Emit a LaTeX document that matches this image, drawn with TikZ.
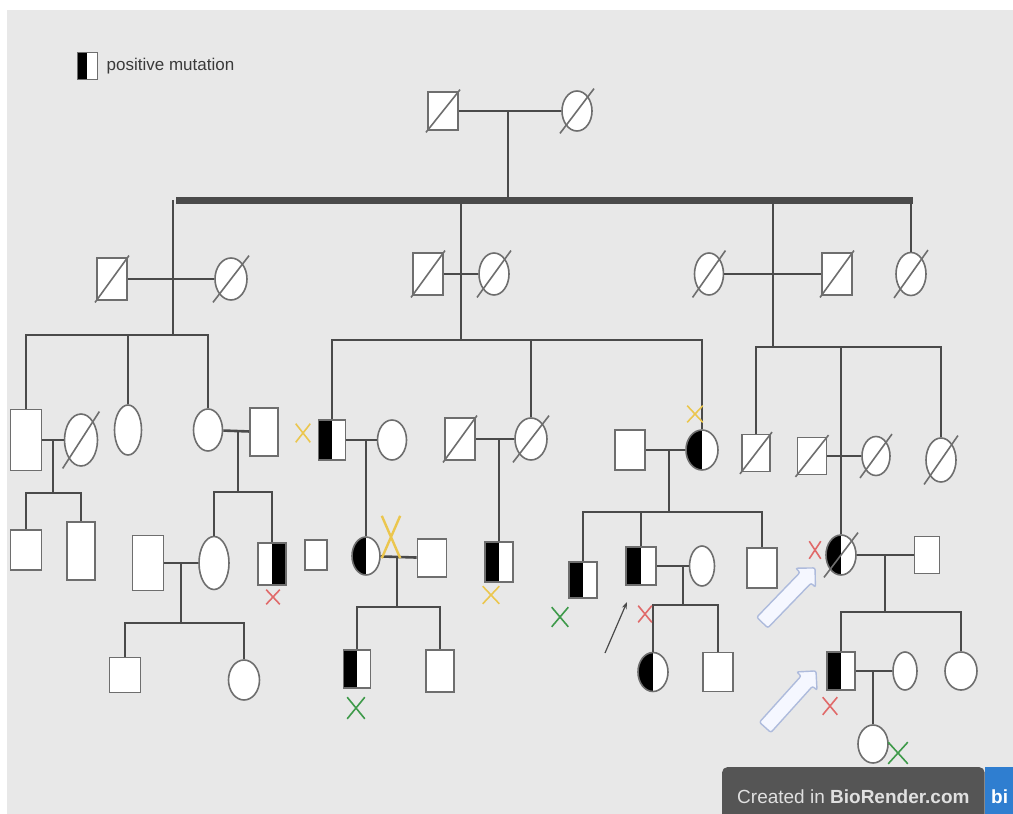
\documentclass[tikz,border=0pt]{standalone}
\usepackage{fontspec}
\setmainfont{Liberation Sans}
\usetikzlibrary{arrows.meta, positioning, shapes.geometric, shapes.misc, shapes.arrows}

\definecolor{bgc}{HTML}{E8E8E8}
\definecolor{linec}{HTML}{4A4A4A}
\definecolor{shapec}{HTML}{6E6E6E}
\definecolor{textc}{HTML}{3A3A3A}
\definecolor{yelx}{HTML}{EBC64E}
\definecolor{redx}{HTML}{E06A6A}
\definecolor{grnx}{HTML}{3E9A4A}
\definecolor{hintc}{HTML}{AEBBDC}
\definecolor{hintfill}{HTML}{F5F7FF}
\definecolor{badgec}{HTML}{555555}
\definecolor{logoc}{HTML}{2F7ED0}

\begin{document}
\begin{tikzpicture}[
    x=1pt, y=-1pt,
    person/.style={draw=shapec, line width=1.6pt, fill=white, inner sep=0pt},
    male/.style={person, rectangle, minimum width=29pt, minimum height=39pt},
    female/.style={person, ellipse, minimum width=29pt, minimum height=40pt},
    carrier/.style={path picture={\fill[black] (path picture bounding box.south west) rectangle (path picture bounding box.north);}},
    carrierR/.style={path picture={\fill[black] (path picture bounding box.south) rectangle (path picture bounding box.north east);}},
    slash/.style={draw=shapec, line width=1.6pt, shorten <=-2pt, shorten >=-2pt},
    dead/.style={append after command={(\tikzlastnode.west |- \tikzlastnode.south) edge[slash] (\tikzlastnode.east |- \tikzlastnode.north)}},
    kin/.style={draw=linec, line width=2.6pt},
    bar/.style={draw=linec, line width=7pt},
    xmark/.style={cross out, line width=1.6pt, inner sep=0pt, minimum width=12pt, minimum height=14pt},
    hint/.style={single arrow, draw=hintc, fill=hintfill, line width=1.4pt, rounded corners=2pt,
        minimum height=76pt, single arrow head extend=6pt, inner xsep=0pt, inner ysep=7pt},
]

\useasboundingbox (0,0) rectangle (1013,814);
\fill[white] (0,0) rectangle (1013,814);
\fill[bgc] (7,10) rectangle (1013,814);

% legend
\node[male, carrier, line width=1pt, minimum width=20pt, minimum height=27pt] (legbox) at (87,66) {};
\node[right=8pt of legbox, inner sep=1pt, text=textc, font=\fontsize{17}{17}\selectfont] (legtext) {positive mutation};

% generation I
\node[male, dead, minimum height=38pt, minimum width=30pt] (i1) at (443,111) {};
\node[female, dead, minimum width=30pt] (i2) at (577,111) {};

% generation II
\node[male, dead, minimum width=30pt, minimum height=42pt] (ii1) at (112,279) {};
\node[female, dead, minimum width=32pt, minimum height=42pt] (ii2) at (231,279) {};
\node[male, dead, minimum width=30pt, minimum height=42pt] (ii3) at (428,274) {};
\node[female, dead, minimum width=30pt, minimum height=42pt] (ii4) at (494,274) {};
\node[female, dead, minimum height=42pt] (ii5) at (709,274) {};
\node[male, dead, minimum width=30pt, minimum height=42pt] (ii6) at (837,274) {};
\node[female, dead, minimum width=30pt, minimum height=43pt] (ii7) at (911,274) {};

% generation III
\node[male, minimum width=31pt, minimum height=61pt] (iii1) at (26,440) {};
\node[female, dead, minimum width=33pt, minimum height=52pt] (iii2) at (81,440) {};
\node[female, minimum width=27pt, minimum height=50pt] (iii3) at (128,430) {};
\node[female, minimum height=42pt] (iii4) at (208,430) {};
\node[male, minimum width=28pt, minimum height=48pt] (iii5) at (264,432) {};
\node[male, carrier, minimum width=27pt, minimum height=40pt] (iii6) at (332,440) {};
\node[female, minimum height=40pt] (iii7) at (392,440) {};
\node[male, dead, minimum width=30pt, minimum height=42pt] (iii8) at (460,439) {};
\node[female, dead, minimum width=32pt, minimum height=42pt] (iii9) at (531,439) {};
\node[male, minimum width=30pt, minimum height=40pt] (iii10) at (630,450) {};
\node[female, carrier, minimum width=32pt, minimum height=40pt] (iii11) at (702,450) {};
\node[male, dead, minimum width=28pt, minimum height=37pt] (iii12) at (756,453) {};
\node[male, dead, minimum width=29pt, minimum height=37pt] (iii13) at (812,456) {};
\node[female, dead, minimum width=28pt, minimum height=39pt] (iii14) at (876,456) {};
\node[female, dead, minimum width=30pt, minimum height=44pt] (iii15) at (941,460) {};

% generation IV
\node[male, minimum width=31pt, minimum height=40pt] (iv1) at (26,550) {};
\node[male, minimum width=28pt, minimum height=58pt] (iv2) at (81,551) {};
\node[male, minimum width=31pt, minimum height=55pt] (iv5) at (148,563) {};
\node[female, minimum width=30pt, minimum height=53pt] (iv3) at (214,563) {};
\node[male, carrierR, minimum width=28pt, minimum height=42pt] (iv4) at (272,564) {};
\node[male, minimum width=22pt, minimum height=30pt] (iv6) at (316,555) {};
\node[female, carrier, minimum width=28pt, minimum height=38pt] (iv7) at (366,556) {};
\node[male, minimum width=29pt, minimum height=38pt] (iv8) at (432,558) {};
\node[male, carrier, minimum width=28pt, minimum height=40pt] (iv9) at (499,562) {};
\node[male, carrier, minimum width=28pt, minimum height=36pt] (iv10) at (583,580) {};
\node[male, carrier, minimum width=30pt, minimum height=38pt] (iv11) at (641,566) {};
\node[female, minimum width=25pt, minimum height=40pt] (iv12) at (702,566) {};
\node[male, minimum width=30pt, minimum height=40pt] (iv13) at (762,568) {};
\node[female, carrier, dead, minimum width=30pt, minimum height=40pt] (iv14) at (841,555) {};
\node[male, minimum width=25pt, minimum height=37pt] (iv15) at (927,555) {};

% generation V
\node[male, minimum width=31pt, minimum height=35pt] (v1) at (125,675) {};
\node[female, minimum width=31pt, minimum height=40pt] (v2) at (244,680) {};
\node[male, carrier, minimum width=27pt, minimum height=38pt] (v3) at (357,669) {};
\node[male, minimum width=28pt, minimum height=42pt] (v4) at (440,671) {};
\node[female, carrier, minimum width=30pt, minimum height=39pt] (v5) at (653,672) {};
\node[male, minimum width=30pt, minimum height=39pt] (v6) at (718,672) {};
\node[male, carrier, minimum width=28pt, minimum height=38pt] (v7) at (841,671) {};
\node[female, minimum width=24pt, minimum height=38pt] (v8) at (905,671) {};
\node[female, minimum width=32pt, minimum height=38pt] (v9) at (961,671) {};

% generation VI
\node[female, minimum width=30pt, minimum height=38pt] (vi1) at (873,744) {};

% junctions
\coordinate (barL) at (176,200);
\coordinate (barR) at (913,200);
\coordinate (dI) at (508,200);
\coordinate (sA) at (173,335);
\coordinate (sB) at (53,493);
\coordinate (sC) at (238,492);
\coordinate (sD) at (181,623);
\coordinate (sE) at (461,340);
\coordinate (sG) at (397,607);
\coordinate (sH) at (669,512);
\coordinate (sI) at (683,605);
\coordinate (sJ) at (773,347);
\coordinate (sK) at (885,612);

% top couple
\draw[kin] (i1) -- (i2);
\draw[kin] (dI) -- (dI |- i1);
\draw[bar] (barL) -- (barR);

% left branch
\draw[kin] (ii1) -- (ii2);
\draw[kin] (sA |- barL) -- (sA);
\draw[kin] (iii1) |- (sA) -| (iii4);
\draw[kin] (iii3) -- (iii3 |- sA);
\draw[kin] (iii1) -- (iii2);
\draw[kin] (sB |- iii1) -- (sB);
\draw[kin] (iv1) |- (sB) -| (iv2);
\draw[kin] (iii4) -- (iii5);
\draw[kin] (sC |- iii4) -- (sC);
\draw[kin] (iv3) |- (sC) -| (iv4);
\draw[kin] (iv5) -- (iv3);
\draw[kin] (sD |- iv3) -- (sD);
\draw[kin] (v1) |- (sD) -| (v2);

% middle branch
\draw[kin] (ii3) -- (ii4);
\draw[kin] (sE |- barL) -- (sE);
\draw[kin] (iii6) |- (sE) -| (iii11);
\draw[kin] (iii9) -- (iii9 |- sE);
\draw[kin] (iii6) -- (iii7);
\draw[kin] (iv7 |- iii7) -- (iv7);
\draw[kin] (iii8) -- (iii9);
\draw[kin] (iv9 |- iii8) -- (iv9);
\draw[kin] (iv7) -- (iv8);
\draw[kin] (sG |- iv8) -- (sG);
\draw[kin] (v3) |- (sG) -| (v4);
\draw[kin] (iii10) -- (iii11);
\draw[kin] (sH |- iii10) -- (sH);
\draw[kin] (iv10) |- (sH) -| (iv13);
\draw[kin] (iv11) -- (iv11 |- sH);
\draw[kin] (iv11) -- (iv12);
\draw[kin] (sI |- iv12) -- (sI);
\draw[kin] (v5) |- (sI) -| (v6);

% right branch
\draw[kin] (ii5) -- (ii6);
\draw[kin] (sJ |- barL) -- (sJ);
\draw[kin] (ii7) -- (ii7 |- barL);
\draw[kin] (iii12) |- (sJ) -| (iii15);
\draw[kin] (iii13) -- (iii14);
\draw[kin] (iv14) -- (iv14 |- sJ);
\draw[kin] (iv14) -- (iv15);
\draw[kin] (sK |- iv14) -- (sK);
\draw[kin] (v7) |- (sK) -| (v9);
\draw[kin] (v7) -- (v8);
\draw[kin] (vi1 |- v7) -- (vi1);

% test marks
\node[xmark, draw=yelx, minimum width=13pt, minimum height=17pt] (xy1) at (303,433) {};
\node[xmark, draw=yelx, minimum width=14pt, minimum height=15pt] (xy2) at (695,414) {};
\node[xmark, draw=yelx, line width=2.4pt, minimum width=16pt, minimum height=40pt] (xy3) at (391,537) {};
\node[xmark, draw=yelx, minimum width=15pt, minimum height=16pt] (xy4) at (491,595) {};
\node[xmark, draw=redx, minimum width=12pt, minimum height=13pt] (xr1) at (273,597) {};
\node[xmark, draw=redx, minimum width=12pt, minimum height=15pt] (xr2) at (645,614) {};
\node[xmark, draw=redx, minimum width=10pt, minimum height=16pt] (xr3) at (815,550) {};
\node[xmark, draw=redx, minimum width=13pt, minimum height=16pt] (xr4) at (830,706) {};
\node[xmark, draw=grnx, minimum width=16pt, minimum height=20pt] (xg1) at (356,708) {};
\node[xmark, draw=grnx, minimum width=15pt, minimum height=18pt] (xg2) at (560,617) {};
\node[xmark, draw=grnx, minimum width=18pt, minimum height=20pt] (xg3) at (898,753) {};

% pointers
\coordinate (ptT) at (605,653);
\coordinate (ptH) at (627,602);
\draw[draw=linec, line width=1.2pt, -{Stealth[length=7pt, width=5pt]}] (ptT) -- (ptH);
\node[hint, rotate=46] (hint1) at (786,598) {};
\node[hint, rotate=48] (hint2) at (788,702) {};

% badge
\node[anchor=north west, fill=badgec, rounded corners=5pt, minimum height=60pt, inner xsep=15pt,
    text=white!88!black, font=\fontsize{19}{19}\selectfont] (badge) at (722,767) {Created in \textbf{BioRender.com}};
\node[anchor=north west, fill=logoc, minimum height=60pt, minimum width=28pt, inner xsep=6pt, text=white,
    font=\fontsize{19}{19}\selectfont\bfseries] (logo) at (985,767) {bi};

\end{tikzpicture}
\end{document}
